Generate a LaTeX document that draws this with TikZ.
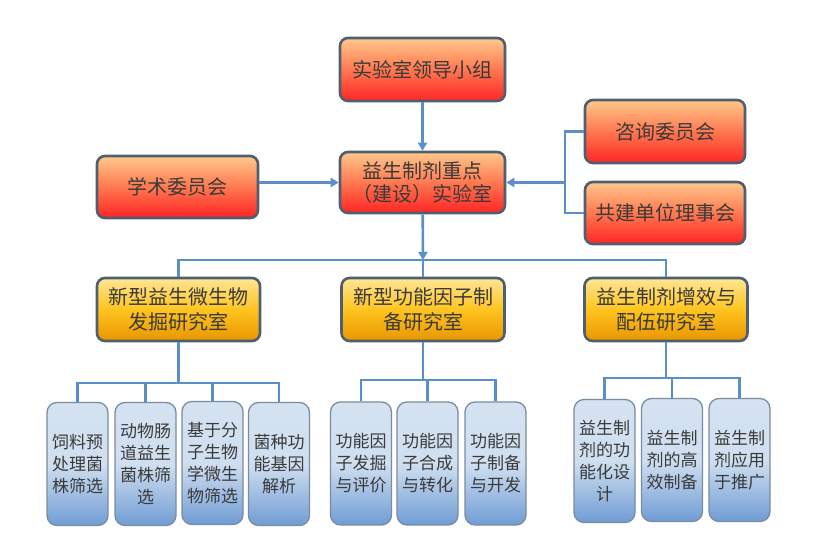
\documentclass[tikz,border=0pt]{standalone}
\usepackage{fontspec}
\setmainfont{Noto Sans CJK SC}
\usetikzlibrary{arrows.meta}
\definecolor{wire}{RGB}{91,143,201}
\definecolor{rim}{RGB}{78,96,112}
\definecolor{pale}{RGB}{122,140,160}
\definecolor{ink}{RGB}{58,58,58}
\definecolor{redtop}{RGB}{255,200,140}
\definecolor{redmid}{RGB}{255,120,80}
\definecolor{redbot}{RGB}{255,36,36}
\definecolor{goldtop}{RGB}{255,230,150}
\definecolor{goldmid}{RGB}{255,196,30}
\definecolor{goldbot}{RGB}{232,150,0}
\definecolor{bluetop}{RGB}{212,226,241}
\definecolor{bluemid}{RGB}{208,223,240}
\definecolor{bluebot}{RGB}{112,156,212}
\begin{document}
\begin{tikzpicture}
[ x=1pt, y=-1pt
, board/.style={rectangle, rounded corners=8pt, draw=rim, line width=2.6pt, top color=redtop, bottom color=redbot, middle color=redmid, text=ink, align=center, font=\fontsize{20}{23}\selectfont}
, room/.style={rectangle, rounded corners=8pt, draw=rim, line width=2.6pt, top color=goldtop, bottom color=goldbot, middle color=goldmid, text=ink, align=center, minimum width=163pt, minimum height=63pt, font=\fontsize{20}{25}\selectfont}
, task/.style={rectangle, rounded corners=10pt, draw=pale, line width=1.3pt, top color=bluetop, bottom color=bluebot, middle color=bluemid, text=ink, align=center, inner sep=1pt, minimum width=61pt, minimum height=123pt, font=\fontsize{17}{22}\selectfont}
, link/.style={draw=wire, line width=2.6pt}
, arrow/.style={link, -{Triangle[length=8pt, width=9pt]}}
]
\useasboundingbox (0,0) rectangle (824,543);
% Top part:
\node (lead) [board, minimum width=165pt, minimum height=63pt] at (422.5,69.5) {实验室领导小组};
\node (lab) [board, minimum width=165pt, minimum height=61pt] at (422.5,182.5) {益生制剂重点\\（建设）实验室};
\node (academic) [board, minimum width=161pt, minimum height=62pt] at (177.5,187) {学术委员会};
\node (consult) [board, minimum width=160pt, minimum height=63pt] at (665,131.5) {咨询委员会};
\node (council) [board, minimum width=160pt, minimum height=62pt] at (665,213) {共建单位理事会};
% Second part:
\node (new1) [room] at (178.5,309.5) {新型益生微生物\\发掘研究室};
\node (new2) [room] at (423,309.5) {新型功能因子制\\备研究室};
\node (new3) [room] at (666,309.5) {益生制剂增效与\\配伍研究室};
% Third part:
\node (f1) [task] at (77.5,464) {饲料预\\处理菌\\株筛选};
\node (f2) [task] at (145.5,464) {动物肠\\道益生\\菌株筛\\选};
\node (f3) [task] at (212.5,463) {基于分\\子生物\\学微生\\物筛选};
\node (f4) [task] at (279,464) {菌种功\\能基因\\解析};
\node (g1) [task] at (361,463.5) {功能因\\子发掘\\与评价};
\node (g2) [task] at (427.5,463.5) {功能因\\子合成\\与转化};
\node (g3) [task] at (495.5,463.5) {功能因\\子制备\\与开发};
\node (h1) [task] at (604.5,461) {益生制\\剂的功\\能化设\\计};
\node (h2) [task] at (672,460) {益生制\\剂的高\\效制备};
\node (h3) [task] at (739.5,460) {益生制\\剂应用\\于推广};
\coordinate (join) at (565,182.5);
\coordinate (bus) at (423,260);
\coordinate (b1) at (178.5,383);
\coordinate (b2) at (423,380);
\coordinate (b3) at (666,378);
\draw [arrow] (lead) -- (lab);
\draw [arrow] (academic.east |- lab.west) -- (lab.west);
\draw [link] (consult.west) -| (join) |- (council.west);
\draw [arrow] (join) -- (lab.east);
\draw [link] (new1) |- (bus) -| (new3);
\draw [link] (bus) -- (new2);
\draw [arrow] (lab) -- (bus);
\draw [link] (new1) -- (b1);
\draw [link] (new2) -- (b2);
\draw [link] (new3) -- (b3);
\foreach \i in {1,...,4} \draw [link] (b1) -| (f\i);
\foreach \i in {1,2,3} \draw [link] (b2) -| (g\i);
\foreach \i in {1,2,3} \draw [link] (b3) -| (h\i);
\end{tikzpicture}
\end{document}
